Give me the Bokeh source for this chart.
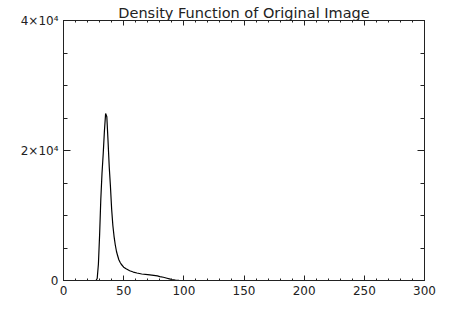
from bokeh.plotting import figure
from bokeh.models import Range1d, FixedTicker, LinearAxis, ColumnDataSource
from bokeh.embed import file_html
from bokeh.resources import INLINE

title = "Density Function of Original Image"
gray_level = [20, 27, 28, 29, 30, 31, 32, 33, 34, 35, 36, 37, 38, 39, 40, 41, 42, 43, 44, 45,
              46, 47, 48, 50, 52, 55, 58, 61, 65, 70, 75, 78, 80, 83, 86, 88, 90, 93, 96, 99, 100]
density = [0, 0, 300, 2500, 7000, 12500, 16500, 19500, 23000, 25700, 25200, 21500, 17500, 14500,
           11000, 8500, 6800, 5500, 4500, 3800, 3200, 2800, 2500, 2050, 1800, 1500, 1300, 1150,
           1000, 900, 780, 700, 600, 500, 350, 250, 150, 80, 30, 0, 0]
x_ticks = [0, 50, 100, 150, 200, 250, 300]
x_minor = list(range(0, 301, 10))
y_ticks = [0, 20000, 40000]
y_minor = list(range(0, 40001, 5000))
y_labels = {0: "0", 20000: "2×10⁴", 40000: "4×10⁴"}

FONT = "DejaVu Sans"
INK = "#222222"

p = figure(width=471, height=325, output_backend="svg", toolbar_location=None,
           x_range=Range1d(0, 300), y_range=Range1d(0, 40000),
           min_border_left=63, min_border_right=47, min_border_top=20, min_border_bottom=45,
           x_axis_type=None, y_axis_type=None)
p.title.text = title
p.title.align = "center"
p.title.text_font = FONT
p.title.text_font_size = "14.5px"
p.title.text_font_style = "normal"
p.title.text_color = INK
p.title.standoff = 0
p.title.offset = 0
p.outline_line_color = INK
p.background_fill_color = "white"
p.border_fill_color = "white"

src = ColumnDataSource(dict(x=gray_level, y=density))
p.line("x", "y", source=src, line_color="black", line_width=1.2)


def style(ax):
    ax.axis_line_color = INK
    ax.major_tick_line_color = INK
    ax.minor_tick_line_color = INK
    ax.major_tick_out = 0
    ax.minor_tick_out = 0
    ax.major_label_text_font = FONT
    ax.major_label_text_color = INK
    return ax


def labelled_axis(ticks, minor, major_in, minor_in, overrides=None):
    ax = style(LinearAxis(ticker=FixedTicker(ticks=ticks, minor_ticks=minor)))
    ax.major_tick_in = major_in
    ax.minor_tick_in = minor_in
    ax.major_label_text_font_size = "12px"
    ax.major_label_standoff = 5
    if overrides:
        ax.major_label_overrides = overrides
    return ax


def mirror_axis(marks, length):
    # tick marks only (no labels): the marks are drawn as the ticker's minor ticks
    ax = style(LinearAxis(ticker=FixedTicker(ticks=[], minor_ticks=marks)))
    ax.major_tick_in = 0
    ax.minor_tick_in = length
    ax.major_label_standoff = 0
    return ax


p.add_layout(labelled_axis(x_ticks, x_minor, 5, 2), "below")
p.add_layout(mirror_axis(x_minor, 2), "above")
p.add_layout(mirror_axis(x_ticks, 5), "above")
p.add_layout(labelled_axis(y_ticks, y_minor, 7, 4, overrides=y_labels), "left")
p.add_layout(mirror_axis(y_minor, 4), "right")
p.add_layout(mirror_axis(y_ticks, 7), "right")
p.xgrid.visible = False
p.ygrid.visible = False

open("out.html", "w").write(file_html(p, INLINE))
